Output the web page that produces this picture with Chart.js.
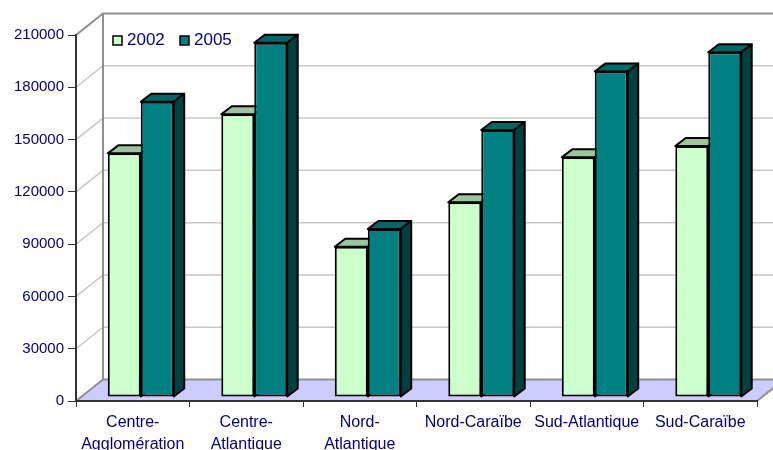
<!DOCTYPE html>
<html lang="fr">
<head>
  <meta charset="UTF-8" />
  <title>Régions 2002 / 2005</title>
  <style>
    html, body { margin: 0; padding: 0; background: #fff; }
    #wrap { width: 773px; height: 450px; }
    canvas { display: block; }
  </style>
</head>
<body>
  <div id="wrap"><canvas id="barChart" width="773" height="450"></canvas></div>

  <script src="https://cdn.jsdelivr.net/npm/chart.js"></script>
  <script>
    // data
    const regions = [
      ['Centre-', 'Agglomération'],
      ['Centre-', 'Atlantique'],
      ['Nord-', 'Atlantique'],
      'Nord-Caraïbe',
      'Sud-Atlantique',
      'Sud-Caraïbe'
    ];
    const values2002 = [139800, 162200, 86200, 111700, 137500, 144000];
    const values2005 = [169400, 203300, 96400, 153200, 186700, 197800];
    const yMax = 210000;
    const yStep = 30000;

    const textColor = '#000080';
    const fontFamily = "'Liberation Sans', Arial, sans-serif";

    // bar colours: front, top, side
    const colors2002 = { front: '#ccffcc', top: '#9cc59c', side: '#80a080' };
    const colors2005 = { front: '#008080', top: '#006666', side: '#004040' };

    // 3d look
    const wallDx = 27, wallDy = 21.5;   // depth of the box
    const barShiftX = 8, barShiftY = -4; // bars sit a bit behind the front axis
    const barDx = 10.5, barDy = 8;       // depth of a bar

    const box3d = {
      id: 'box3d',
      beforeDraw(chart) {
        const { ctx, chartArea: a, scales } = chart;
        const y = scales.y;
        const W = chart.width;
        ctx.save();
        // back wall + side wall
        ctx.fillStyle = '#fff';
        ctx.fillRect(a.left, 0, W, a.bottom);
        // floor
        ctx.fillStyle = '#ccccff';
        ctx.beginPath();
        ctx.moveTo(a.left, a.bottom);
        ctx.lineTo(a.right, a.bottom);
        ctx.lineTo(a.right + wallDx, a.bottom - wallDy);
        ctx.lineTo(a.left + wallDx, a.bottom - wallDy);
        ctx.closePath();
        ctx.fill();

        // grid lines on the walls
        ctx.strokeStyle = '#c8c8c8';
        ctx.lineWidth = 1.5;
        for (let v = yStep; v < yMax; v += yStep) {
          const py = y.getPixelForValue(v);
          ctx.beginPath();
          ctx.moveTo(a.left, py);
          ctx.lineTo(a.left + wallDx, py - wallDy);
          ctx.lineTo(W, py - wallDy);
          ctx.stroke();
        }

        // wall edges
        ctx.strokeStyle = '#909090';
        ctx.lineWidth = 2;
        const top = y.getPixelForValue(yMax);
        ctx.beginPath();
        ctx.moveTo(a.left, top);
        ctx.lineTo(a.left + wallDx, top - wallDy);
        ctx.lineTo(W, top - wallDy);
        ctx.moveTo(a.left + wallDx, top - wallDy);
        ctx.lineTo(a.left + wallDx, a.bottom - wallDy);
        ctx.lineTo(W, a.bottom - wallDy);
        ctx.moveTo(a.left, a.bottom);
        ctx.lineTo(a.left + wallDx, a.bottom - wallDy);
        ctx.moveTo(a.right, a.bottom);
        ctx.lineTo(a.right + wallDx, a.bottom - wallDy);
        ctx.stroke();
        ctx.restore();
      },
      beforeDatasetsDraw(chart) {
        const ctx = chart.ctx;
        ctx.save();
        ctx.translate(barShiftX, barShiftY);
        ctx.lineWidth = 2;
        ctx.lineJoin = 'round';
        ctx.strokeStyle = '#000';
        const n = chart.data.labels.length;
        for (let i = 0; i < n; i++) {
          chart.data.datasets.forEach((ds, di) => {
            const el = chart.getDatasetMeta(di).data[i];
            const { x, y, base, width } = el.getProps(['x', 'y', 'base', 'width'], true);
            const xl = x - width / 2, xr = x + width / 2;
            const c = ds.faces;
            // top
            ctx.fillStyle = c.top;
            ctx.beginPath();
            ctx.moveTo(xl, y);
            ctx.lineTo(xl + barDx, y - barDy);
            ctx.lineTo(xr + barDx, y - barDy);
            ctx.lineTo(xr, y);
            ctx.closePath();
            ctx.fill();
            ctx.stroke();
            // side
            ctx.fillStyle = c.side;
            ctx.beginPath();
            ctx.moveTo(xr, y);
            ctx.lineTo(xr + barDx, y - barDy);
            ctx.lineTo(xr + barDx, base - barDy);
            ctx.lineTo(xr, base);
            ctx.closePath();
            ctx.fill();
            ctx.stroke();
          });
        }
        // fronts are drawn by Chart.js with the same shift
      },
      afterDatasetsDraw(chart) {
        const ctx = chart.ctx;
        ctx.restore();

        // legend inside the plot
        ctx.save();
        ctx.font = '17px ' + fontFamily;
        ctx.textBaseline = 'middle';
        ctx.lineWidth = 1.5;
        ctx.strokeStyle = '#000';
        const items = [
          { x: 113, label: chart.data.datasets[0].label, fill: colors2002.front },
          { x: 180, label: chart.data.datasets[1].label, fill: colors2005.front }
        ];
        items.forEach(it => {
          ctx.fillStyle = it.fill;
          ctx.fillRect(it.x, 36, 9, 9);
          ctx.strokeRect(it.x, 36, 9, 9);
          ctx.fillStyle = textColor;
          ctx.fillText(it.label, it.x + 14, 40.5);
        });
        ctx.restore();
      }
    };

    const ctx = document.getElementById('barChart').getContext('2d');
    const barChart = new Chart(ctx, {
      type: 'bar',
      data: {
        labels: regions,
        datasets: [
          {
            label: '2002',
            data: values2002,
            faces: colors2002,
            backgroundColor: colors2002.front,
            borderColor: '#000',
            borderWidth: 2,
            borderSkipped: false
          },
          {
            label: '2005',
            data: values2005,
            faces: colors2005,
            backgroundColor: colors2005.front,
            borderColor: '#000',
            borderWidth: 2,
            borderSkipped: false
          }
        ]
      },
      options: {
        responsive: false,
        animation: false,
        devicePixelRatio: 1,
        categoryPercentage: 0.581,
        barPercentage: 1,
        layout: { padding: { top: 35, right: 16, left: 0, bottom: 0 } },
        plugins: {
          legend: { display: false },
          tooltip: { enabled: false }
        },
        scales: {
          x: {
            offset: true,
            afterFit(scale) { scale.height = 49; },
            grid: { drawOnChartArea: false, drawTicks: true, tickLength: 6, color: '#333', offset: true },
            border: { display: true, color: '#333', width: 2 },
            ticks: {
              color: textColor,
              autoSkip: false,
              maxRotation: 0,
              padding: 4,
              font: { family: fontFamily, size: 16, lineHeight: 1.4 }
            }
          },
          y: {
            min: 0,
            max: yMax,
            afterFit(scale) { scale.width = 76; },
            grid: { drawOnChartArea: false, drawTicks: true, tickLength: 8, color: '#333' },
            border: { display: true, color: '#333', width: 2 },
            ticks: {
              stepSize: yStep,
              color: textColor,
              padding: 4,
              font: { family: fontFamily, size: 15 },
              callback: value => String(value)
            }
          }
        }
      },
      plugins: [box3d]
    });
  </script>
</body>
</html>
